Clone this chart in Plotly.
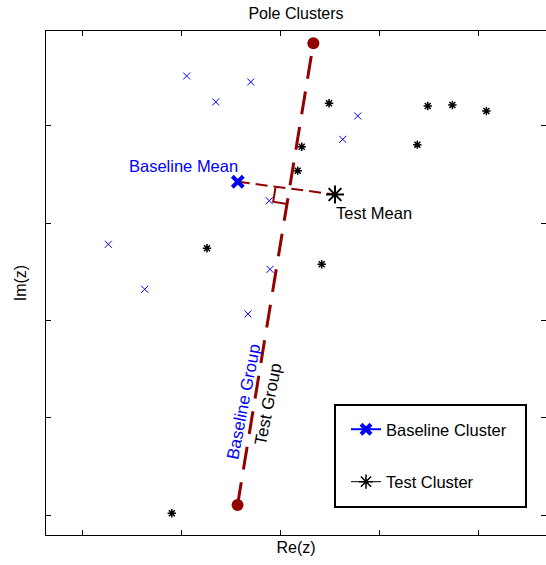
import numpy as np
import plotly.graph_objects as go

# Pole locations in the z-plane (real, imaginary)
baseline_re = [0.3055, 0.3701, 0.3348, 0.4779, 0.4628, 0.3888, 0.2265, 0.3895, 0.2632, 0.3673]
baseline_im = [0.6514, 0.6452, 0.6247, 0.6103, 0.5863, 0.5232, 0.4784, 0.4527, 0.4322, 0.4069]
test_re = [0.4490, 0.5485, 0.5733, 0.6076, 0.5380, 0.4215, 0.4174, 0.3260, 0.4416, 0.2905]
test_im = [0.6233, 0.6206, 0.6216, 0.6154, 0.5808, 0.5787, 0.5541, 0.4743, 0.4579, 0.2021]

# cluster centres
baseline_mean = [0.3570, 0.5427]
test_mean = [0.4550, 0.5296]

# dividing line between the two groups (end points)
boundary_re = [0.3568, 0.4332]
boundary_im = [0.2105, 0.6850]

x_ticks = [0.2, 0.3, 0.4, 0.5, 0.6]
y_ticks = [0.2, 0.3, 0.4, 0.5, 0.6]
x_range = [0.1637, 0.6677]
y_range = [0.1797, 0.6976]

W, H = 546, 565
ML, MR, MT, MB = 46, 0, 31, 30
FONT = "Liberation Sans, Arial, Helvetica, sans-serif"
RED = "#920000"
BLUE = "#0000ff"

# right-angle marker where the centre-to-centre segment meets the boundary,
# computed in screen-proportional units so it stays square
kx = (W - ML - MR) / (x_range[1] - x_range[0])
ky = (H - MT - MB) / (y_range[1] - y_range[0])
to_px = lambda x, y: np.array([x * kx, y * ky])
A = to_px(boundary_re[0], boundary_im[0])
B = to_px(boundary_re[1], boundary_im[1])
d = (B - A) / np.linalg.norm(B - A)
Mb = to_px(*baseline_mean)
foot = A + d * np.dot(Mb - A, d)
u = (Mb - foot) / np.linalg.norm(Mb - foot)
w = -d
side = 14
corners = [foot + side * u, foot + side * (u + w), foot + side * w]
sq_x = [c[0] / kx for c in corners]
sq_y = [c[1] / ky for c in corners]

fig = go.Figure()

fig.add_trace(go.Scatter(
    x=baseline_re, y=baseline_im, mode="markers", showlegend=False,
    marker=dict(symbol="x-thin", size=7, line=dict(color=BLUE, width=1)),
))
fig.add_trace(go.Scatter(
    x=test_re, y=test_im, mode="markers", showlegend=False,
    marker=dict(symbol="asterisk", size=7, line=dict(color="black", width=1.5)),
))

# boundary line
fig.add_trace(go.Scatter(
    x=boundary_re, y=boundary_im, mode="lines+markers", showlegend=False,
    line=dict(color=RED, width=3, dash="23px,13px"),
    marker=dict(symbol="circle", size=12, color=RED),
))
# centre-to-centre segment
fig.add_trace(go.Scatter(
    x=[baseline_mean[0], test_mean[0]], y=[baseline_mean[1], test_mean[1]],
    mode="lines", showlegend=False,
    line=dict(color=RED, width=2, dash="12px,6px"),
))
fig.add_trace(go.Scatter(
    x=sq_x, y=sq_y, mode="lines", showlegend=False,
    line=dict(color=RED, width=2),
))

# cluster centres
fig.add_trace(go.Scatter(
    x=[baseline_mean[0]], y=[baseline_mean[1]], mode="markers", showlegend=False,
    marker=dict(symbol="x-thin", size=11, line=dict(color=BLUE, width=4)),
))
fig.add_trace(go.Scatter(
    x=[test_mean[0]], y=[test_mean[1]], mode="markers", showlegend=False,
    marker=dict(symbol="asterisk", size=15, line=dict(color="black", width=2)),
))

# legend entries
fig.add_trace(go.Scatter(
    x=[None], y=[None], mode="lines+markers", name="Baseline Cluster", legendgroup="b",
    line=dict(color=BLUE, width=2),
    marker=dict(symbol="x-thin", size=10, line=dict(color=BLUE, width=4)),
))
fig.add_trace(go.Scatter(
    x=[None], y=[None], mode="lines+markers", name="Test Cluster", legendgroup="t",
    line=dict(color="black", width=1),
    marker=dict(symbol="asterisk", size=12, line=dict(color="black", width=1.5)),
))
# carries the right-hand tick marks
fig.add_trace(go.Scatter(x=[None], y=[None], yaxis="y2", showlegend=False, hoverinfo="skip"))

annotations = [
    dict(x=0.3023, y=0.5584, text="Baseline Mean", font=dict(color=BLUE, size=16.5)),
    dict(x=0.4939, y=0.5106, text="Test Mean", font=dict(color="black", size=16.5)),
    dict(x=0.3625, y=0.3163, text="Baseline Group", textangle=-79, font=dict(color=BLUE, size=17)),
    dict(x=0.3872, y=0.3143, text="Test Group", textangle=-79, font=dict(color="black", size=17)),
]
for a in annotations:
    a.update(xref="x", yref="y", showarrow=False, xanchor="center", yanchor="middle")

fig.update_layout(
    width=W, height=H,
    margin=dict(l=ML, r=MR, t=MT, b=MB),
    paper_bgcolor="white", plot_bgcolor="white",
    font=dict(family=FONT, size=16, color="black"),
    title=dict(text="Pole Clusters", x=(ML + (W - ML - MR) / 2) / W, xanchor="center",
               y=1 - 13 / H, yanchor="middle", font=dict(size=16)),
    xaxis=dict(range=x_range, tickvals=x_ticks, showticklabels=False, ticks="inside",
               ticklen=5, tickcolor="black", showline=True, linecolor="black", linewidth=1,
               mirror="ticks", showgrid=False, zeroline=False,
               title=dict(text="Re(z)", standoff=6, font=dict(size=16))),
    yaxis=dict(range=y_range, tickvals=y_ticks, showticklabels=False, ticks="inside",
               ticklen=5, tickcolor="black", showline=True, linecolor="black", linewidth=1,
               showgrid=False, zeroline=False,
               title=dict(text="Im(z)", standoff=14, font=dict(size=16))),
    yaxis2=dict(range=y_range, tickvals=y_ticks, showticklabels=False, ticks="inside",
                ticklen=5, tickcolor="black", overlaying="y", side="right",
                showline=False, showgrid=False, zeroline=False),
    legend=dict(x=(346 - ML) / (W - ML - MR), y=(H - MB - 412) / (H - MT - MB),
                xanchor="left", yanchor="top", bgcolor="rgba(0,0,0,0)",
                borderwidth=0, tracegroupgap=28, traceorder="grouped",
                font=dict(size=16.5)),
    shapes=[dict(type="rect", xref="paper", yref="paper",
                 x0=(335 - ML) / (W - ML - MR), x1=(526 - ML) / (W - ML - MR),
                 y0=(H - MB - 507) / (H - MT - MB), y1=(H - MB - 405) / (H - MT - MB),
                 line=dict(color="black", width=2), fillcolor="white", layer="below")],
    annotations=annotations,
)

fig.write_html("out.html")
